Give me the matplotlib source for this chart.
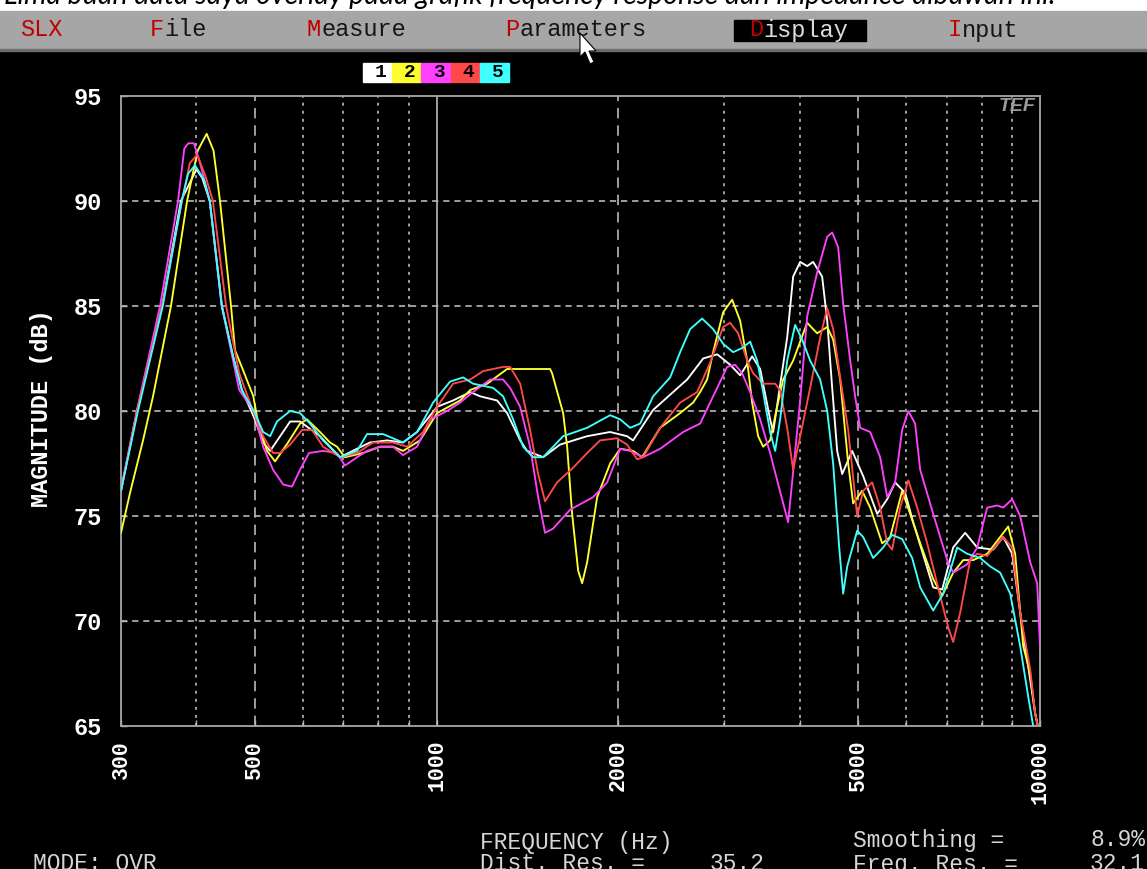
import matplotlib.pyplot as plt
from matplotlib.patches import Rectangle, Polygon
from matplotlib.ticker import NullFormatter

plt.rcParams['lines.scale_dashes'] = False

# traces: frequency (Hz) and magnitude (dB)
freq_1 = [300, 319, 351, 377, 400, 409, 421, 441, 460, 476, 500, 516, 530, 572, 594, 641, 692, 738, 776,
          828, 880, 928, 1002, 1065, 1137, 1181, 1260, 1309, 1376, 1413, 1502, 1602, 1776, 1939, 2069,
          2117, 2285, 2602, 2766, 2918, 3066, 3185, 3334, 3438, 3571, 3613, 3811, 3899, 4005, 4113, 4208,
          4355, 4440, 4525, 4612, 4701, 4883, 5093, 5373, 5582, 5754, 5978, 6164, 6653, 6885, 7180, 7516,
          7869, 8365, 8690, 8993, 9272, 9633, 9817, 10000]
mag_1 = [76.2, 80.0, 85.0, 90.0, 91.5, 91.1, 90.0, 85.0, 82.6, 81.0, 79.6, 78.5, 78.1, 79.5, 79.5, 78.8,
         77.8, 78.2, 78.5, 78.6, 78.5, 79.0, 80.2, 80.5, 80.9, 80.7, 80.5, 79.9, 78.6, 78.1, 77.8, 78.4,
         78.8, 79.0, 78.8, 78.6, 80.05, 81.5, 82.5, 82.7, 82.2, 81.7, 82.6, 82.0, 79.6, 79.0, 83.5, 86.4,
         87.1, 86.9, 87.1, 86.4, 84.3, 81.1, 78.1, 77.0, 78.1, 76.9, 75.1, 75.8, 76.6, 76.1, 74.7, 71.6,
         71.5, 73.5, 74.2, 73.5, 73.4, 74.0, 73.2, 70.4, 67.2, 65.6, 64.5]

freq_2 = [300, 310.5, 326.3, 339, 363, 386, 402, 416, 427, 437.7, 456.5, 463.5, 475.6, 497, 506.5, 523.8,
          540, 567.5, 594, 610, 641, 666, 684, 705, 755.6, 806, 847, 880, 939, 1002, 1094, 1137, 1213,
          1309, 1542.5, 1554, 1621, 1646, 1677.6, 1716.5, 1743, 1776.5, 1845.7, 1939.4, 2014.8, 2117,
          2191, 2347, 2533, 2662, 2734, 2808, 2873, 2985, 3089, 3185, 3271, 3334, 3411.6, 3477, 3571,
          3668, 3753, 3899, 4113, 4273, 4440, 4542, 4665, 4810, 4902.5, 5073, 5231, 5476, 5646, 5910,
          6094, 6331, 6653, 6885, 7180, 7460, 7750, 8175, 8591, 8857, 9096, 9379, 9633, 9817, 10000]
mag_2 = [74.2, 76.1, 78.6, 80.7, 85.0, 90.0, 92.4, 93.2, 92.4, 90.0, 85.0, 82.9, 82.1, 80.7, 79.4, 78.1,
         77.6, 78.5, 79.4, 79.6, 79.0, 78.5, 78.3, 77.8, 78.0, 78.3, 78.3, 78.1, 78.6, 79.9, 80.5, 81.0,
         81.3, 82.0, 82.0, 81.8, 79.9, 78.3, 75.1, 72.4, 71.8, 72.8, 75.9, 77.5, 78.2, 78.1, 77.8, 79.2,
         79.9, 80.4, 80.9, 81.5, 82.8, 84.7, 85.3, 84.3, 82.4, 80.4, 78.8, 78.3, 78.6, 80.2, 81.5, 82.4,
         84.2, 83.7, 84.0, 83.4, 81.5, 77.5, 75.6, 76.2, 75.4, 73.7, 74.0, 76.2, 75.1, 73.7, 72.0, 71.2,
         72.3, 72.9, 72.9, 73.2, 74.0, 74.5, 73.2, 68.8, 67.5, 65.6, 64.5]

freq_3 = [300, 318.6, 348.2, 372.9, 382, 388, 396, 404, 421, 440.6, 471, 498, 516, 536, 557, 576, 594,
          614.7, 648.5, 684, 705, 738.5, 767, 806, 847, 880, 928.5, 975.8, 1041, 1094, 1137, 1226.8, 1289,
          1324, 1375.7, 1429, 1473.5, 1513, 1560, 1665, 1817.6, 1917.5, 2015, 2093, 2199.7, 2347, 2562.5,
          2734, 2873, 3031, 3124.6, 3209, 3309, 3438, 3571, 3668, 3825, 4005, 4113, 4273, 4440, 4525,
          4630, 4719, 4847, 4939, 5035, 5231, 5434, 5582, 5754, 5910, 6050, 6210, 6331, 6653, 7018, 7180,
          7574, 7869, 8175, 8493, 8690, 8993, 9272, 9633, 9893, 10000]
mag_3 = [76.3, 80.0, 85.0, 90.0, 92.5, 92.75, 92.75, 92.0, 90.0, 85.0, 81.0, 80.0, 78.3, 77.2, 76.5,
         76.4, 77.2, 78.0, 78.1, 78.0, 77.4, 77.8, 78.1, 78.3, 78.3, 77.9, 78.3, 79.6, 80.0, 80.4, 80.8,
         81.5, 81.5, 81.1, 80.2, 78.3, 75.9, 74.2, 74.4, 75.3, 75.9, 76.6, 78.2, 78.1, 77.8, 78.2, 79.0,
         79.4, 80.7, 82.1, 82.2, 81.8, 80.9, 79.6, 78.0, 76.7, 74.7, 80.5, 84.5, 86.6, 88.3, 88.5, 87.8,
         85.1, 82.4, 80.7, 79.2, 79.0, 77.8, 75.9, 76.6, 79.1, 80.0, 79.4, 77.2, 75.1, 72.9, 72.3, 72.7,
         73.5, 75.4, 75.5, 75.4, 75.8, 75.0, 72.8, 71.8, 68.8]

freq_4 = [300, 319, 351, 378.7, 390, 401, 414, 426, 448, 471, 496.5, 516, 536, 550.4, 572, 598.6, 621.9,
          648.5, 692, 738.5, 785, 847, 893.8, 950, 1002, 1065, 1137, 1194.5, 1289, 1324, 1376, 1429,
          1473.5, 1513, 1584, 1684, 1776.5, 1866.8, 1989.6, 2069, 2150, 2199.7, 2347, 2533, 2703, 2840.6,
          2985, 3066, 3161, 3271, 3347, 3477, 3640, 3710, 3811, 3899, 4005, 4160, 4322, 4440, 4542, 4665,
          4810, 4978, 5093, 5271, 5434, 5582, 5689, 5865, 6050, 6259, 6502, 6833, 7045, 7180, 7374.7,
          7661, 7869, 8175, 8690, 8993, 9272, 9633, 9817, 10000]
mag_4 = [76.2, 80.0, 85.0, 90.0, 91.8, 92.2, 91.2, 90.0, 85.0, 81.8, 80.0, 78.8, 78.0, 78.0, 78.4, 79.1,
         79.1, 78.3, 77.8, 78.0, 78.5, 78.5, 78.3, 79.0, 80.2, 81.3, 81.5, 81.9, 82.1, 82.1, 81.3, 79.1,
         77.0, 75.7, 76.6, 77.3, 78.0, 78.6, 78.7, 78.4, 77.7, 77.8, 79.2, 80.4, 80.9, 82.3, 84.0, 84.2,
         83.7, 82.4, 81.8, 81.3, 81.3, 81.0, 79.2, 77.2, 78.8, 81.1, 83.5, 84.9, 83.9, 81.6, 79.1, 75.0,
         76.2, 76.6, 75.4, 73.7, 73.4, 75.4, 76.7, 75.4, 73.7, 71.2, 69.7, 69.0, 70.4, 72.9, 73.2, 73.1,
         74.0, 73.5, 70.4, 67.7, 65.6, 64.5]

freq_5 = [300, 320, 351.8, 378.2, 387.5, 397.9, 412, 421, 440.6, 460, 475.6, 500, 516, 530, 544, 572, 594,
          617, 648.5, 692, 738.5, 767, 815.5, 880, 928.5, 987, 1053, 1106.8, 1149.8, 1241, 1289, 1339.5,
          1391.5, 1445.7, 1502, 1621, 1776.5, 1939.4, 2015, 2093, 2174.6, 2285, 2438.4, 2533, 2632, 2755,
          2873, 2985, 3101, 3209, 3309, 3398.7, 3477, 3571, 3640, 3710, 3811, 3928.6, 4035, 4160, 4322,
          4440, 4542, 4648, 4719, 4792, 4978, 5093, 5291, 5497, 5689, 5910, 6140, 6331, 6653, 6911, 7291,
          7574, 7960, 8269, 8591, 8925, 9272, 9560, 9744, 10000]
mag_5 = [76.2, 80.0, 85.0, 90.0, 91.3, 91.7, 91.0, 90.0, 85.0, 82.6, 81.0, 79.9, 79.0, 78.8, 79.5, 80.0,
         79.9, 79.4, 78.6, 77.8, 78.1, 78.9, 78.9, 78.5, 79.0, 80.4, 81.4, 81.6, 81.3, 81.1, 80.7, 79.6,
         78.3, 77.8, 77.8, 78.8, 79.2, 79.8, 79.6, 79.2, 79.4, 80.7, 81.6, 82.8, 83.9, 84.4, 83.9, 83.2,
         82.8, 83.0, 83.3, 82.4, 80.9, 79.0, 78.1, 79.6, 82.4, 84.1, 83.4, 82.4, 81.5, 80.0, 77.5, 73.5,
         71.3, 72.6, 74.3, 74.0, 73.0, 73.5, 74.1, 73.9, 73.0, 71.6, 70.5, 71.3, 73.5, 73.2, 73.0, 72.6,
         72.3, 71.3, 68.8, 66.4, 65.0, 63.5]

trace_labels = ['1', '2', '3', '4', '5']
trace_colors = ['#ffffff', '#ffff30', '#ff40ff', '#ff4848', '#40ffff']

x_ticks = [300, 500, 1000, 2000, 5000, 10000]
y_ticks = [65, 70, 75, 80, 85, 90, 95]
grid_dotted = [400, 600, 700, 800, 900, 3000, 4000, 6000, 7000, 8000, 9000]
grid_dashed = [500, 2000, 5000]
grid_solid = [1000]

menu_items = ['SLX', 'File', 'Measure', 'Parameters', 'Display', 'Input']
menu_x = [20, 150, 307, 505, 749, 948]

W, H = 1147, 869
mono = 'Liberation Mono'
grey = '#b8b8b8'
menu_size = 17
char_w = 0.6 * menu_size * 100 / 72   # advance of one monospace character in px


def fx(x):
    return x / W


def fy(y):
    return 1 - y / H


fig = plt.figure(figsize=(W / 100, H / 100), dpi=100, facecolor='black')

# caption strip (cut off) and menu bar
fig.add_artist(Rectangle((0, fy(11)), 1, 11 / H, transform=fig.transFigure, color='white', zorder=0))
fig.text(fx(4), fy(4), 'Lima buah data saya overlay pada grafik frequency response dan impedance dibawah ini:',
         family='Lato', style='italic', fontsize=20.5, color='black', va='baseline', zorder=1)
fig.add_artist(Rectangle((0, fy(50)), 1, 39 / H, transform=fig.transFigure, color='#a6a6a6', zorder=2))
fig.add_artist(Rectangle((0, fy(51)), 1, 2 / H, transform=fig.transFigure, color='#6c6c6c', zorder=2))
fig.add_artist(Rectangle((fx(734), fy(41)), 132 / W, 21 / H, transform=fig.transFigure,
                         color='black', zorder=3))
for name, x in zip(menu_items, menu_x):
    rest_color = '#dcdcdc' if name == 'Display' else '#151515'
    if name == 'SLX':
        fig.text(fx(x), fy(30), name, family=mono, fontsize=menu_size, color='#c00000', va='center', zorder=4)
        continue
    fig.text(fx(x), fy(30), name[0], family=mono, fontsize=menu_size, color='#c00000', va='center', zorder=4)
    fig.text(fx(x + char_w), fy(30), name[1:], family=mono, fontsize=menu_size, color=rest_color,
             va='center', zorder=4)

# mouse pointer
pointer = [(580, 33), (580, 57), (585, 52), (590, 64), (594, 62), (589, 51), (596, 51)]
fig.add_artist(Polygon([(fx(a), fy(b)) for a, b in pointer], closed=True, transform=fig.transFigure,
                       facecolor='white', edgecolor='black', lw=0.8, zorder=5))

# trace legend boxes
cell_w = 29.2
for i, (lab, col) in enumerate(zip(trace_labels, trace_colors)):
    x0 = 363 + i * cell_w
    fig.add_artist(Rectangle((fx(x0), fy(82)), cell_w / W, 19 / H, transform=fig.transFigure,
                             color=col, zorder=2))
    fig.text(fx(x0 + cell_w / 2 + 3), fy(72.5), lab, family=mono, fontsize=14, fontweight='bold',
             color='black', ha='center', va='center', zorder=3)

ax = fig.add_axes([fx(121), fy(726), (1040 - 121) / W, (726 - 96) / H])
ax.set_facecolor('black')
ax.set_xscale('log')

for y in y_ticks[1:-1]:
    ax.axhline(y, color=grey, lw=1.2, ls=(0, (4.5, 3.5)), zorder=1)
for f in grid_dotted:
    ax.axvline(f, color=grey, lw=1.2, ls=(0, (2.2, 3.6)), zorder=1)
for f in grid_dashed:
    ax.axvline(f, color=grey, lw=1.2, ls=(0, (7.5, 5)), zorder=1)
for f in grid_solid:
    ax.axvline(f, color=grey, lw=1.2, zorder=1)

traces = [(freq_1, mag_1), (freq_2, mag_2), (freq_3, mag_3), (freq_4, mag_4), (freq_5, mag_5)]
for (f, m), col in zip(traces, trace_colors):
    ax.plot(f, m, color=col, lw=1.35, zorder=3)

ax.set_xlim(300, 10000)
ax.set_ylim(65, 95)
ax.set_xticks(x_ticks)
ax.set_xticklabels([str(t) for t in x_ticks], rotation=90, family=mono, fontweight='bold')
ax.set_xticks(grid_dotted, minor=True)
ax.xaxis.set_minor_formatter(NullFormatter())
ax.set_yticks(y_ticks)
ax.set_yticklabels([str(t) for t in y_ticks], family=mono, fontweight='bold')
ax.tick_params(axis='both', which='both', direction='in', length=4, width=1, color=grey,
               labelcolor='white')
ax.tick_params(axis='x', which='major', pad=10, labelsize=15.5)
ax.tick_params(axis='y', which='major', pad=14, labelsize=17)
for sp in ax.spines.values():
    sp.set_color('#a8a8a8')
    sp.set_linewidth(1.3)

ax.text(0.995, 0.997, 'TEF', transform=ax.transAxes, ha='right', va='top', family='Liberation Sans',
        style='italic', fontweight='bold', fontsize=14, color='#9a9a9a')

fig.text(fx(42), fy(408), 'MAGNITUDE (dB)', rotation=90, ha='center', va='center', family=mono,
         fontweight='bold', fontsize=17, color='white')

# status lines under the plot
txt = dict(family=mono, fontsize=16.5, color='#d6d6d6', va='center')
fig.text(fx(480), fy(842), 'FREQUENCY (Hz)', **txt)
fig.text(fx(853), fy(840), 'Smoothing =', **txt)
fig.text(fx(1090), fy(840), '8.9%', **txt)
fig.text(fx(33), fy(864), 'MODE: OVR', **txt)
fig.text(fx(480), fy(864), 'Dist. Res. =', **txt)
fig.text(fx(710), fy(864), '35.2', **txt)
fig.text(fx(853), fy(864), 'Freq. Res. =', **txt)
fig.text(fx(1090), fy(864), '32.1', **txt)

fig.savefig('out.png', dpi=100, facecolor='black')
